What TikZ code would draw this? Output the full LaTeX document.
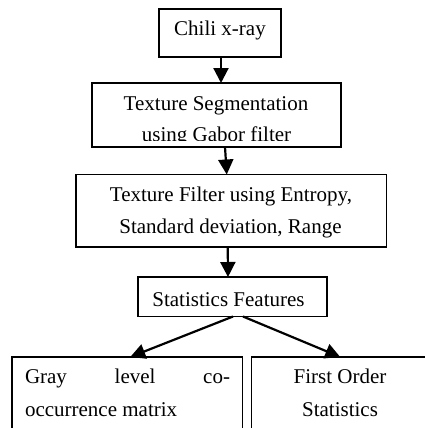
\documentclass[tikz,border=0pt]{standalone}
\usepackage{fontspec}
\setmainfont{Liberation Serif}
\usetikzlibrary{arrows.meta,calc}
\begin{document}
\begin{tikzpicture}[x=1pt,y=-1pt,
  box/.style={draw=black,line width=1.6pt,inner sep=0pt,outer sep=0pt,rectangle},
  txt/.style={inner sep=0pt,outer sep=0pt,anchor=base,font=\fontsize{21}{25}\selectfont},
  flow/.style={line width=2.2pt,-{Triangle[width=15pt,length=15pt]}}]
\useasboundingbox (0,0) rectangle (425,428);
\node[box,minimum width=122pt,minimum height=48pt] (b1) at (220,33) {};
\node[box,minimum width=249pt,minimum height=64pt] (b2) at (216.5,115) {};
\node[box,minimum width=310.5pt,minimum height=72.5pt] (b3) at (231.25,210.75) {};
\node[box,minimum width=189pt,minimum height=39.5pt] (b4) at (232.5,296.75) {};
\node[box,minimum width=230.5pt,minimum height=93pt] (b5) at (127.25,403.5) {};
\node[box,minimum width=178.5pt,minimum height=93pt] (b6) at (340.75,403.5) {};
% texts
\node[txt] (t1) at (220,36) {Chili x-ray};
\node[txt] (t2a) at (216,110) {Texture Segmentation};
\begin{scope}
  \clip (b2.north west) rectangle ($(b2.south east)+(0,-7)$);
  \node[txt] (t2b) at (216.5,141) {using Gabor filter};
\end{scope}
\node[txt] (t3a) at (231,201) {Texture Filter using Entropy,};
\node[txt] (t3b) at (230.5,233) {Standard deviation, Range};
\node[txt] (t4) at (228.5,306) {Statistics Features};
\node[txt] (t5a) at (127.5,383) {\makebox[205pt][s]{Gray level co-}};
\node[txt,anchor=base west] (t5b) at (25,416) {occurrence matrix};
\node[txt] (t6a) at (340,383) {First Order};
\node[txt] (t6b) at (340,416) {Statistics};
% connectors
\draw[flow] ([xshift=1pt]b1.south) -- ([xshift=4.5pt]b2.north);
\draw[flow] ([xshift=8.5pt]b2.south) -- ([xshift=-4.5pt]b3.north);
\draw[flow] ([xshift=-3.5pt]b3.south) -- ([xshift=-4.5pt]b4.north);
\draw[flow] ([xshift=0.5pt]b4.south) -- ([xshift=3pt]b5.north);
\draw[flow] ([xshift=10.5pt]b4.south) -- ([xshift=-0.5pt]b6.north);
\end{tikzpicture}
\end{document}
